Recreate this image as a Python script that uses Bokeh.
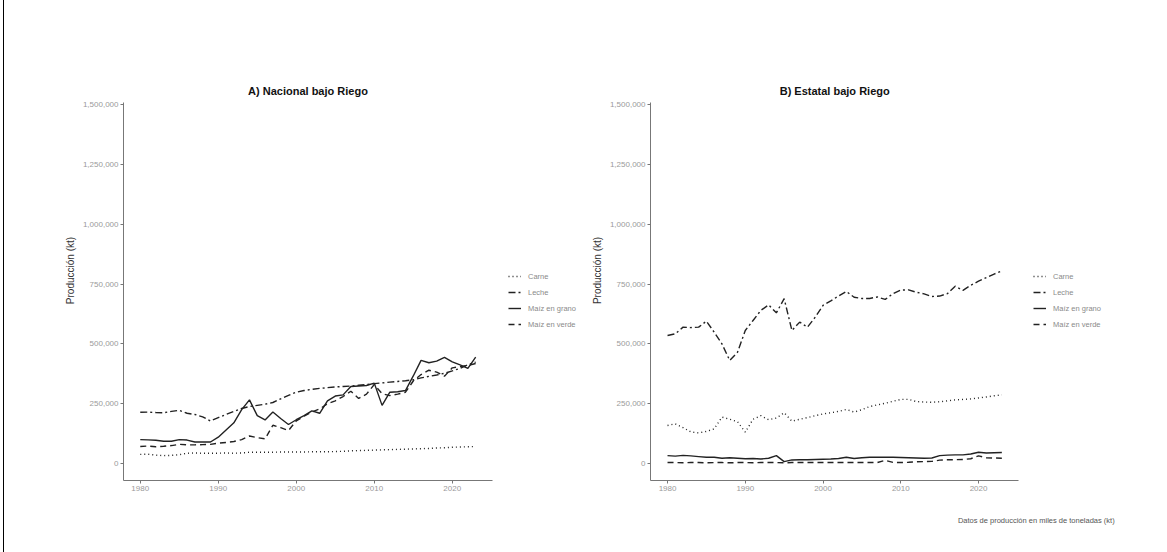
from bokeh.plotting import figure
from bokeh.layouts import row, column
from bokeh.models import (Range1d, FixedTicker, NumeralTickFormatter, Legend, LegendItem, Label)
from bokeh.embed import file_html
from bokeh.resources import INLINE

years = list(range(1980, 2024))

# Panel A: Nacional bajo Riego (miles de toneladas)
nac_carne = [38, 39, 35, 33, 34, 37, 43, 44, 43, 43, 43, 44, 43, 44, 47, 47, 47, 47, 48, 48, 48, 48,
             49, 49, 49, 50, 51, 53, 54, 55, 56, 57, 58, 59, 60, 61, 62, 63, 65, 66, 68, 69, 70, 71]
nac_leche = [214, 215, 213, 212, 218, 222, 210, 205, 195, 178, 192, 205, 218, 230, 238, 243, 248, 255,
             270, 285, 298, 305, 310, 314, 317, 320, 322, 324, 327, 330, 334, 337, 340, 343, 346, 350,
             358, 364, 370, 377, 387, 398, 413, 424]
nac_grano = [100, 99, 97, 93, 93, 100, 98, 90, 90, 90, 110, 140, 170, 225, 266, 200, 182, 215, 188, 163,
             183, 200, 220, 210, 262, 282, 287, 322, 324, 326, 336, 243, 298, 300, 305, 366, 431, 421,
             428, 444, 425, 412, 398, 445]
nac_verde = [71, 73, 70, 72, 75, 80, 78, 78, 79, 80, 85, 88, 92, 100, 115, 108, 103, 160, 150, 138, 178,
             198, 215, 228, 250, 262, 280, 302, 272, 290, 330, 292, 284, 290, 298, 345, 372, 390, 382,
             365, 400, 405, 410, 418]

# Panel B: Estatal bajo Riego
est_carne = [159, 166, 150, 132, 128, 134, 145, 194, 185, 175, 131, 185, 200, 183, 190, 212, 177, 185,
             192, 200, 207, 212, 218, 226, 215, 225, 238, 245, 252, 260, 268, 268, 259, 257, 256, 258,
             262, 266, 268, 270, 274, 278, 283, 287]
est_leche = [535, 542, 570, 568, 570, 595, 549, 500, 431, 465, 556, 598, 640, 663, 630, 689, 556, 591,
             570, 612, 661, 680, 700, 719, 695, 690, 690, 696, 686, 710, 725, 726, 716, 709, 698, 700,
             710, 741, 724, 745, 762, 777, 792, 805]
est_grano = [33, 31, 34, 32, 29, 26, 26, 22, 24, 22, 20, 21, 19, 22, 33, 8, 15, 16, 16, 17, 18, 19, 21,
             26, 21, 24, 26, 26, 26, 26, 25, 24, 23, 22, 23, 33, 35, 36, 36, 40, 47, 44, 45, 46]
est_verde = [4, 4, 3, 4, 4, 3, 4, 4, 3, 4, 4, 3, 4, 4, 4, 3, 4, 4, 4, 4, 4, 4, 4, 4, 4, 4, 4, 4, 13, 5,
             4, 5, 7, 8, 9, 14, 16, 16, 17, 20, 32, 24, 23, 22]

series_names = ["Carne", "Leche", "Maíz en grano", "Maíz en verde"]
y_ticks = [0, 250000, 500000, 750000, 1000000, 1250000, 1500000]
x_ticks = [1980, 1990, 2000, 2010, 2020]
titles = ["A) Nacional bajo Riego", "B) Estatal bajo Riego"]
caption = "Datos de producción en miles de toneladas (kt)"

dashes = ["1 3", "7 3 2 3", "solid", "6 4"]
FONT = "Liberation Sans"
PX = 4180                      # data units per pixel on the y axis
Y0, YTOP = -71000, 1509000     # visible axis span
Y1 = YTOP + 42 * PX            # extra room above for the panel title
TOP = 60
BOTTOM_Y = 480


def panel(series, title, width, height, left, x0, x1, legend_x):
    p = figure(width=width, height=height, output_backend="svg", toolbar_location=None,
               x_range=Range1d(x0, x1), y_range=Range1d(Y0, Y1),
               min_border_left=left, min_border_right=0, min_border_top=TOP,
               min_border_bottom=height - BOTTOM_Y)
    p.outline_line_color = None
    p.grid.visible = False
    p.background_fill_color = "white"
    p.border_fill_color = "white"
    items = []
    for name, vals, dash in zip(series_names, series, dashes):
        ys = [v * 1000 for v in vals]
        r = p.line(years, ys, line_color="#222222", line_width=1.4, line_dash=dash)
        items.append(LegendItem(label=name, renderers=[r]))
    for ax in (p.xaxis[0], p.yaxis[0]):
        ax.axis_line_color = "#777777"
        ax.major_tick_line_color = "#777777"
        ax.major_tick_out = 3
        ax.major_tick_in = 0
        ax.minor_tick_line_color = None
        ax.major_label_text_font = FONT
        ax.major_label_text_font_size = "8px"
        ax.major_label_text_color = "#9a9a9a"
        ax.major_label_standoff = 2
    p.xaxis.ticker = FixedTicker(ticks=x_ticks)
    p.xaxis.bounds = (x0, 2025.15)
    p.yaxis.ticker = FixedTicker(ticks=y_ticks)
    p.yaxis.bounds = (Y0, YTOP)
    p.yaxis.formatter = NumeralTickFormatter(format="0,0")
    p.yaxis.axis_label = "Producción (kt)"
    p.yaxis.axis_label_text_font = FONT
    p.yaxis.axis_label_text_font_size = "10px"
    p.yaxis.axis_label_text_font_style = "normal"
    p.yaxis.axis_label_text_color = "#333333"
    p.yaxis.axis_label_standoff = 4

    leg = Legend(items=items, location=(legend_x, 150))
    leg.glyph_width = 13
    leg.glyph_height = 12
    leg.label_height = 12
    leg.spacing = 4
    leg.padding = 0
    leg.margin = 0
    leg.label_standoff = 7
    leg.border_line_color = None
    leg.background_fill_alpha = 0
    leg.label_text_font = FONT
    leg.label_text_font_size = "7.5px"
    leg.label_text_color = "#8a8a8a"
    p.add_layout(leg, "center")

    p.add_layout(Label(x=2001.5, y=YTOP + 12 * PX, text=title, text_align="center",
                       text_baseline="middle", text_font=FONT, text_font_size="11px",
                       text_font_style="bold", text_color="#111111"))
    return p


pA = panel([nac_carne, nac_leche, nac_grano, nac_verde], titles[0], 576, 552, 119,
           1977.85, 1977.85 + 457 / 7.8, 385)
pB = panel([est_carne, est_leche, est_grano, est_verde], titles[1], 579, 505, 70,
           1977.81, 1977.81 + 509 / 7.775, 383)

pCap = figure(width=579, height=37, output_backend="svg", toolbar_location=None,
              x_range=Range1d(0, 579), y_range=Range1d(0, 37),
              min_border=0, x_axis_type=None, y_axis_type=None)
pCap.outline_line_color = None
pCap.grid.visible = False
pCap.add_layout(Label(x=528, y=22, text=caption, text_align="right", text_baseline="middle",
                      text_font=FONT, text_font_size="7.5px", text_color="#555555"))

layout = row(pA, column(pB, pCap),
             styles={"margin-left": "3px", "border-left": "1px solid black"})
open("out.html", "w").write(file_html(layout, INLINE))
